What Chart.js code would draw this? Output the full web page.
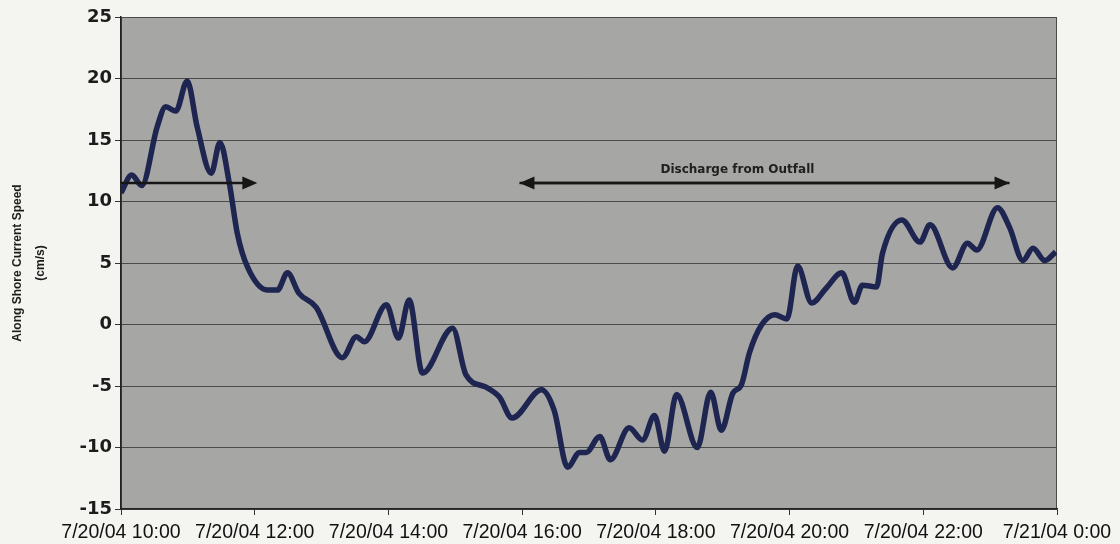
<!DOCTYPE html>
<html>
<head>
<meta charset="utf-8">
<script src="https://cdn.jsdelivr.net/npm/chart.js@4.4.1/dist/chart.umd.min.js"></script>
<style>
  html, body { margin: 0; padding: 0; background: #f4f4f1; }
  #wrap { width: 1120px; height: 544px; }
</style>
</head>
<body>
<div id="wrap"><canvas id="speedChart" width="1120" height="544"></canvas></div>
<script>
// time in hours from 7/20/04 0:00 (24 = 7/21/04 0:00)
const times = [10.00, 10.16, 10.31, 10.54, 10.67, 10.82, 10.99, 11.14, 11.35, 11.48,
  11.62, 11.74, 11.89, 12.19, 12.34, 12.49, 12.66, 12.92, 13.31, 13.52,
  13.64, 13.97, 14.15, 14.31, 14.51, 14.96, 15.16, 15.46, 15.66, 15.85,
  16.29, 16.48, 16.68, 16.86, 16.96, 17.16, 17.32, 17.60, 17.80, 17.98,
  18.13, 18.31, 18.62, 18.82, 18.98, 19.15, 19.28, 19.40, 19.58, 19.78,
  19.96, 20.12, 20.33, 20.55, 20.78, 20.97, 21.09, 21.30, 21.39, 21.68,
  21.95, 22.10, 22.44, 22.66, 22.80, 23.11, 23.29, 23.49, 23.64, 23.82, 23.98];
// along shore current speed, cm/s
const speeds = [10.7, 12.15, 11.3, 16.05, 17.7, 17.35, 19.8, 16.05, 12.3, 14.8,
  11.5, 7.4, 4.7, 2.8, 2.8, 4.2, 2.55, 1.4, -2.7, -1.0,
  -1.4, 1.6, -1.1, 2.0, -3.95, -0.3, -4.1, -5.1, -5.9, -7.6,
  -5.3, -7.0, -11.6, -10.4, -10.4, -9.1, -11.0, -8.4, -9.4, -7.4,
  -10.3, -5.7, -10.0, -5.5, -8.6, -5.6, -4.9, -2.3, -0.05, 0.8,
  0.45, 4.75, 1.75, 2.97, 4.2, 1.8, 3.2, 3.05, 5.8, 8.5,
  6.7, 8.1, 4.6, 6.6, 6.05, 9.5, 7.9, 5.2, 6.2, 5.2, 5.9];
const tickLabels = ['7/20/04 10:00', '7/20/04 12:00', '7/20/04 14:00', '7/20/04 16:00',
  '7/20/04 18:00', '7/20/04 20:00', '7/20/04 22:00', '7/21/04 0:00'];

// arrows: [from hour, to hour, level], head at the "to" end
const arrows = [[10.0, 12.04, 11.5], [23.29, 15.96, 11.5], [15.96, 23.29, 11.5]];
const arrowText = 'Discharge from Outfall';

const plotBg = {
    id: 'plotBg',
    beforeDraw(chart) {
        const {ctx, chartArea: a} = chart;
        ctx.save();
        ctx.fillStyle = '#a6a6a4';
        ctx.fillRect(a.left, a.top, a.right - a.left, a.bottom - a.top);
        ctx.strokeStyle = '#4a4a4a';
        ctx.lineWidth = 1;
        ctx.strokeRect(a.left + 0.5, a.top + 0.5, a.right - a.left - 1, a.bottom - a.top);
        ctx.restore();
    }
};

const arrowPlugin = {
    id: 'arrowPlugin',
    afterDatasetsDraw(chart) {
        const {ctx, scales: {x, y}} = chart;
        ctx.save();
        ctx.strokeStyle = '#161616';
        ctx.fillStyle = '#161616';
        ctx.lineWidth = 2.5;
        arrows.forEach(([from, to, level]) => {
            const x1 = x.getPixelForValue(from);
            const x2 = x.getPixelForValue(to);
            const yy = y.getPixelForValue(level);
            const dir = x2 > x1 ? 1 : -1;
            ctx.beginPath();
            ctx.moveTo(x1, yy);
            ctx.lineTo(x2 - dir * 10, yy);
            ctx.stroke();
            ctx.beginPath();
            ctx.moveTo(x2, yy);
            ctx.lineTo(x2 - dir * 15, yy - 6.5);
            ctx.lineTo(x2 - dir * 15, yy + 6.5);
            ctx.closePath();
            ctx.fill();
        });
        ctx.font = 'bold 12px "DejaVu Sans", sans-serif';
        ctx.textAlign = 'center';
        ctx.textBaseline = 'middle';
        ctx.fillStyle = '#202020';
        ctx.fillText(arrowText, x.getPixelForValue(19.22), y.getPixelForValue(12.6));
        ctx.restore();
    }
};

var ctx = document.getElementById('speedChart').getContext('2d');
var speedChart = new Chart(ctx, {
    type: 'line',
    data: {
        labels: times,
        datasets: [{
            label: 'Along Shore Current Speed',
            data: times.map((t, i) => ({x: t, y: speeds[i]})),
            borderColor: '#1d2550',
            borderWidth: 5.5,
            pointRadius: 0,
            cubicInterpolationMode: 'monotone',
            fill: false
        }]
    },
    options: {
        responsive: false,
        animation: false,
        layout: { padding: { left: 0, top: 17, right: 63, bottom: 0 } },
        plugins: { legend: { display: false }, tooltip: { enabled: false } },
        scales: {
            x: {
                type: 'linear',
                min: 10,
                max: 24,
                afterFit: (scale) => { scale.height = 35; },
                afterBuildTicks: (scale) => {
                    scale.ticks = tickLabels.map((l, i) => ({value: 10 + i * 2}));
                },
                ticks: {
                    autoSkip: false,
                    maxRotation: 0,
                    padding: 6,
                    color: '#111',
                    font: { family: '"Liberation Sans", Arial, sans-serif', size: 19.5 },
                    callback: (v) => tickLabels[Math.round((v - 10) / 2)]
                },
                grid: { drawOnChartArea: false, drawTicks: true, tickLength: 6, color: '#333' },
                border: { display: true, color: '#222', width: 1.5 }
            },
            y: {
                min: -15,
                max: 25,
                afterFit: (scale) => { scale.width = 121; },
                ticks: {
                    stepSize: 5,
                    padding: 3,
                    color: '#1c1c1c',
                    font: { family: '"DejaVu Sans", sans-serif', size: 18, weight: 'bold' }
                },
                grid: { color: '#4a4a4a', lineWidth: 1, tickLength: 6, tickColor: '#333' },
                border: { display: true, color: '#222', width: 1.5 },
                title: {
                    display: true,
                    text: ['Along Shore Current Speed', '(cm/s)'],
                    color: '#1c1c1c',
                    font: { family: '"Liberation Sans", Arial, sans-serif', size: 12, weight: 'bold', lineHeight: 1.85 },
                    padding: { top: 7, bottom: 0 }
                }
            }
        }
    },
    plugins: [plotBg, arrowPlugin]
});
</script>
</body>
</html>
